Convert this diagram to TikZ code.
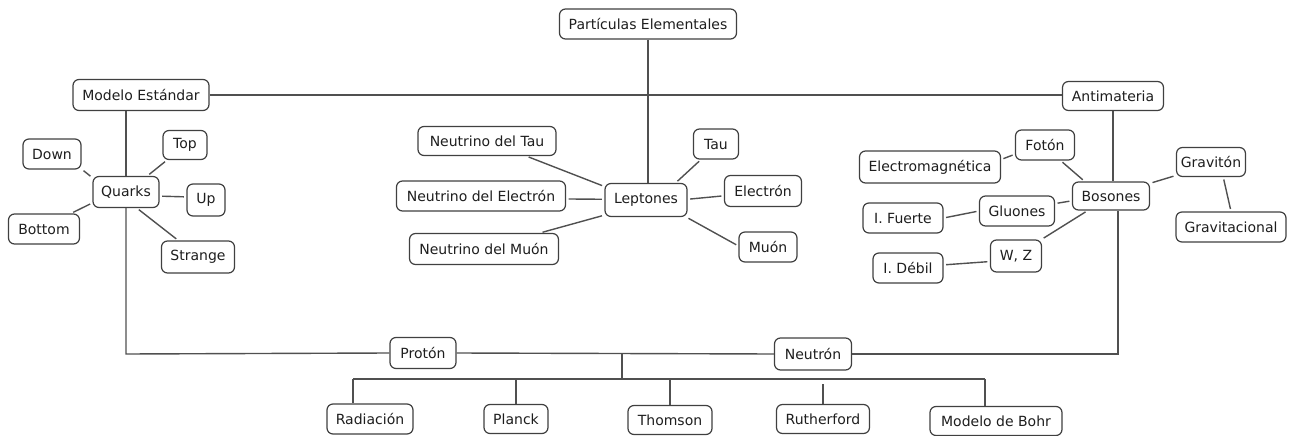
\documentclass[tikz,border=0pt]{standalone}
\usepackage{fontspec}
\setmainfont{DejaVu Sans}
\definecolor{boxline}{HTML}{404040}
\definecolor{linec}{HTML}{505050}
\definecolor{textc}{HTML}{1E1E1E}
\begin{document}
\begin{tikzpicture}[x=1pt,y=-1pt,
  box/.style 2 args={draw=boxline, line width=1.2pt, rounded corners=6pt, fill=white,
    inner sep=0pt, minimum width=#1pt, minimum height=#2pt, text=textc,
    font=\fontsize{14}{16}\selectfont},
  link/.style={draw=linec, line width=1.4pt, shorten <=2.5pt, shorten >=2.5pt},
  trunk/.style={draw=linec, line width=1.4pt}]
\useasboundingbox (0,0) rectangle (1291,436);

% top level
\node[box={177}{30}] (part) at (648,24) {Partículas Elementales};
\node[box={136}{31}] (modelo) at (141,95) {Modelo Estándar};
\node[box={101}{29}] (anti) at (1113,96) {Antimateria};

% quarks
\node[box={66}{31}] (quarks) at (126,192) {Quarks};
\node[box={44}{29}] (top) at (185,145) {Top};
\node[box={58}{30}] (down) at (52,154) {Down};
\node[box={38}{32}] (up) at (206,200) {Up};
\node[box={71}{30}] (bottom) at (44,229) {Bottom};
\node[box={73}{32}] (strange) at (198,257) {Strange};

% leptons
\node[box={82}{33}] (lept) at (646,200) {Leptones};
\node[box={138}{29}] (ntau) at (487,141) {Neutrino del Tau};
\node[box={169}{30}] (nele) at (481,196) {Neutrino del Electrón};
\node[box={149}{31}] (nmuo) at (484,249) {Neutrino del Muón};
\node[box={45}{30}] (tau) at (716,144) {Tau};
\node[box={77}{31}] (elec) at (763,191) {Electrón};
\node[box={58}{30}] (muon) at (768,247) {Muón};

% bosons
\node[box={77}{28}] (bos) at (1111,196) {Bosones};
\node[box={59}{30}] (foton) at (1045,145) {Fotón};
\node[box={141}{32}] (emag) at (930,167) {Electromagnética};
\node[box={69}{29}] (gravi) at (1211,162) {Gravitón};
\node[box={110}{30}] (gravc) at (1231,227) {Gravitacional};
\node[box={75}{30}] (glu) at (1017,211) {Gluones};
\node[box={80}{30}] (fuer) at (903,218) {I. Fuerte};
\node[box={51}{32}] (wz) at (1016,256) {W, Z};
\node[box={70}{30}] (debil) at (908,268) {I. Débil};

% nucleons and models
\node[box={66}{31}] (proton) at (423,353) {Protón};
\node[box={77}{32}] (neutron) at (813,354) {Neutrón};
\node[box={86}{30}] (rad) at (370,419) {Radiación};
\node[box={64}{29}] (planck) at (516,419) {Planck};
\node[box={84}{29}] (thom) at (670,420) {Thomson};
\node[box={93}{29}] (ruth) at (823,419) {Rutherford};
\node[box={132}{29}] (bohr) at (996,421) {Modelo de Bohr};

% helper points of the frame
\coordinate (cl) at (126,354);
\coordinate (cr) at (1118,354);
\coordinate (j) at (622,354);
\coordinate (jb) at (622,379);
\coordinate (bl) at (353,379);
\coordinate (br) at (985,379);

% main frame
\draw[trunk] (modelo.east) -- (modelo.east -| anti.west);
\draw[trunk] (part.south) -- (part.south |- lept.north);
\draw[trunk] (quarks.north |- modelo.south) -- (quarks.north);
\draw[trunk] (quarks.south) -- (cl) -- (proton.west);
\draw[trunk] (proton.east) -- (neutron.west);
\draw[trunk] (neutron.east) -- (cr) -- (cr |- bos.south);
\draw[trunk] (anti.south) -- (anti.south |- bos.north);
\draw[trunk] (j) -- (jb);
\draw[trunk] (bl) -- (br);
\draw[trunk] (bl) -- (bl |- rad.north);
\draw[trunk] (planck.north |- bl) -- (planck.north);
\draw[trunk] (thom.north |- bl) -- (thom.north);
\draw[trunk, shorten <=5pt] (ruth.north |- bl) -- (ruth.north);
\draw[trunk] (br) -- (br |- bohr.north);

% quark links
\draw[link] (down.-27) -- (quarks.157);
\draw[link] (top.220) -- (quarks.37);
\draw[link] (up.171) -- (quarks.-7);
\draw[link] (bottom.30) -- (quarks.198);
\draw[link] (strange.140) -- (quarks.-56);

% lepton links
\draw[link] (tau.226) -- (lept.30);
\draw[link] (elec.187) -- (lept.1);
\draw[link] (muon.178) -- (lept.-23);
\draw[link] (ntau.-21) -- (lept.162);
\draw[link] (nele.-2) -- (lept.179);
\draw[link] (nmuo.16) -- (lept.200);

% boson links
\draw[link] (emag.6) -- (foton.197);
\draw[link] (foton.-45) -- (bos.151);
\draw[link] (bos.18) -- (gravi.201);
\draw[link] (gravi.-51) -- (gravc.north);
\draw[link] (bos.187) -- (glu.11);
\draw[link] (fuer.east) -- (glu.west);
\draw[link] (bos.212) -- (wz.33);
\draw[link] (debil.5) -- (wz.192);
\end{tikzpicture}
\end{document}
